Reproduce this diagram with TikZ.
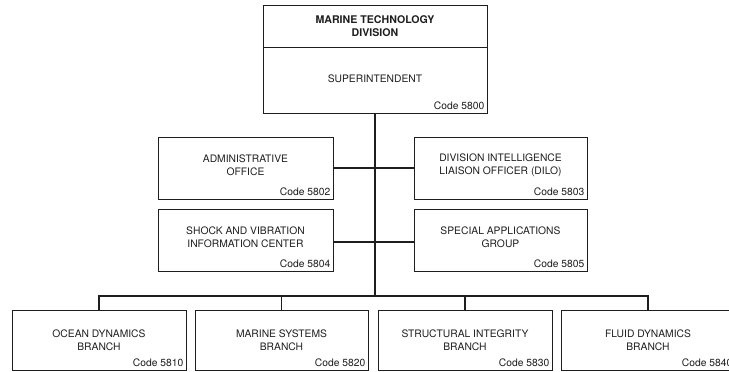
\documentclass[tikz,border=0pt]{standalone}
\usepackage{fontspec}
\setmainfont{TeX Gyre Heros}
\usepackage{tikz}
\usepackage{xcolor}
\usetikzlibrary{positioning,calc}

\definecolor{ink}{HTML}{1E1E1E}

\begin{document}
\begin{tikzpicture}[
  x=1pt, y=-1pt,
  box/.style={draw=ink, line width=1pt, minimum width=174pt, minimum height=62pt, inner sep=0pt},
  lowbox/.style={box, minimum height=60pt},
  txt/.style={text=ink, align=center, font=\fontsize{10.3}{13.5}\selectfont},
  head/.style={txt, font=\fontsize{10.6}{13}\selectfont\bfseries},
  code/.style={text=ink, anchor=south east, inner xsep=3pt, inner ysep=4pt, font=\fontsize{10.3}{12}\selectfont},
  conn/.style={draw=ink, line width=1.7pt}
]
  \useasboundingbox (0,0) rectangle (729,372);

  % Division
  \node[box, minimum width=224pt, minimum height=42pt] (mtd) at (375,26) {};
  \node[head] (mtdT) at (mtd.center) {MARINE TECHNOLOGY\\DIVISION};
  \node[box, minimum width=224pt, minimum height=66pt] (supt) at (375,80) {};
  \node[txt] (suptT) at ([yshift=1pt]supt.center) {SUPERINTENDENT};
  \node[code] (suptC) at (supt.south east) {Code 5800};

  % Staff offices
  \node[box, minimum width=175pt] (adm) at (245.5,168) {};
  \node[txt] (admT) at ([yshift=3pt]adm.center) {ADMINISTRATIVE\\OFFICE};
  \node[code] (admC) at (adm.south east) {Code 5802};

  \node[box, minimum width=173pt] (dilo) at (500.5,168) {};
  \node[txt] (diloT) at ([yshift=3pt]dilo.center) {DIVISION INTELLIGENCE\\LIAISON OFFICER (DILO)};
  \node[code] (diloC) at (dilo.south east) {Code 5803};

  \node[box, minimum width=175pt] (svic) at (245.5,240) {};
  \node[txt] (svicT) at ([yshift=3pt]svic.center) {SHOCK AND VIBRATION\\INFORMATION CENTER};
  \node[code] (svicC) at (svic.south east) {Code 5804};

  \node[box, minimum width=173pt] (sag) at (500.5,240) {};
  \node[txt] (sagT) at ([yshift=3pt]sag.center) {SPECIAL APPLICATIONS\\GROUP};
  \node[code] (sagC) at (sag.south east) {Code 5805};

  % Branches
  \node[lowbox] (odb) at (99,340) {};
  \node[txt] (odbT) at (odb.center) {OCEAN DYNAMICS\\BRANCH};
  \node[code] (odbC) at (odb.south east) {Code 5810};

  \node[lowbox, minimum width=173pt] (msb) at (281.5,340) {};
  \node[txt] (msbT) at (msb.center) {MARINE SYSTEMS\\BRANCH};
  \node[code] (msbC) at (msb.south east) {Code 5820};

  \node[lowbox] (sib) at (465,340) {};
  \node[txt] (sibT) at (sib.center) {STRUCTURAL INTEGRITY\\BRANCH};
  \node[code] (sibC) at (sib.south east) {Code 5830};

  \node[lowbox] (fdb) at (648,340) {};
  \node[txt] (fdbT) at (fdb.center) {FLUID DYNAMICS\\BRANCH};
  \node[code] (fdbC) at (fdb.south east) {Code 5840};

  % Lines
  \coordinate (bus) at (375,296);
  \draw[conn] (supt.south) -- (bus);
  \draw[conn] (adm.east) -- (dilo.west);
  \draw[conn] ([yshift=-2pt]svic.east) -- ([yshift=-2pt]sag.west);
  \draw[conn] (odb.north) |- (bus) -| (fdb.north);
  \draw[conn] (msb.north) -- (msb.north |- bus);
  \draw[conn] (sib.north) -- (sib.north |- bus);
\end{tikzpicture}
\end{document}
